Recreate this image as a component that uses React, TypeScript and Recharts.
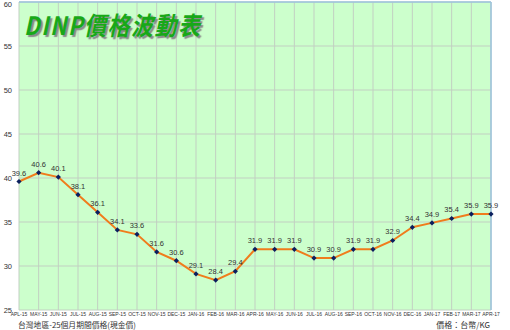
import {
  LineChart,
  Line,
  XAxis,
  YAxis,
  CartesianGrid,
  LabelList,
  ReferenceLine,
} from "recharts";

const months = [
  "APL-15", "MAY-15", "JUN-15", "JUL-15", "AUG-15", "SEP-15", "OCT-15",
  "NOV-15", "DEC-15", "JAN-16", "FEB-16", "MAR-16", "APR-16", "MAY-16",
  "JUN-16", "JUL-16", "AUG-16", "SEP-16", "OCT-16", "NOV-16", "DEC-16",
  "JAN-17", "FEB-17", "MAR-17", "APR-17",
];

const prices = [
  39.6, 40.6, 40.1, 38.1, 36.1, 34.1, 33.6, 31.6, 30.6, 29.1, 28.4, 29.4,
  31.9, 31.9, 31.9, 30.9, 30.9, 31.9, 31.9, 32.9, 34.4, 34.9, 35.4, 35.9, 35.9,
];

const yTicks = [25, 30, 35, 40, 45, 50, 55, 60];

const title = "DINP價格波動表";
const footLeft = "台灣地區-25個月期間價格(現金價)";
const footRight = "價格：台幣/KG";

const data = months.map((m, i) => ({ month: m, price: prices[i] }));

function Diamond(props: any) {
  const { cx, cy } = props;
  if (cx == null || cy == null) return null;
  const r = 2.6;
  return (
    <polygon
      points={`${cx},${cy - r} ${cx + r},${cy} ${cx},${cy + r} ${cx - r},${cy}`}
      fill="#0b1f5e"
    />
  );
}

function YTick(props: any) {
  const { x, y, payload } = props;
  // keep the top label inside the picture
  const ty = Math.max(y, 4);
  return (
    <text
      x={x}
      y={ty}
      dy="0.355em"
      textAnchor="end"
      fill="#333"
      fontSize={7.5}
      fontFamily="Liberation Sans"
    >
      {payload.value}
    </text>
  );
}

export default function App() {
  return (
    <div
      style={{
        position: "absolute",
        left: 0,
        top: 0,
        width: 510,
        height: 330,
        background: "#fff",
        overflow: "hidden",
      }}
    >
      <LineChart
        width={510}
        height={330}
        data={data}
        margin={{ top: 2, right: 19, bottom: 0, left: 0 }}
      >
        <CartesianGrid
          stroke="#c2cfc2"
          strokeWidth={1}
          fill="#ccffcc"
          fillOpacity={1}
        />
        <XAxis
          dataKey="month"
          interval={0}
          tickLine={false}
          axisLine={false}
          tickSize={0}
          tickMargin={2}
          height={20}
          tick={{ fill: "#333", fontSize: 5, fontFamily: "Liberation Sans" }}
        />
        <YAxis
          domain={[25, 60]}
          ticks={yTicks}
          width={19}
          tickLine={false}
          axisLine={false}
          tickSize={0}
          tickMargin={7}
          interval={0}
          tick={<YTick />}
        />
        <ReferenceLine y={60} stroke="#9cc3de" strokeWidth={1.5} />
        <ReferenceLine x="APR-17" stroke="#9cc3de" strokeWidth={1.5} />
        <Line
          type="linear"
          dataKey="price"
          stroke="#f07c1c"
          strokeWidth={2}
          dot={<Diamond />}
          activeDot={false}
          isAnimationActive={false}
        >
          <LabelList
            dataKey="price"
            position="top"
            offset={6}
            fill="#333"
            fontSize={7.5}
            fontFamily="Liberation Sans"
            formatter={(v: any) => Number(v).toFixed(1)}
          />
        </Line>
      </LineChart>
      <div
        style={{
          position: "absolute",
          left: 24,
          top: 7,
          fontFamily: "'Noto Sans CJK TC'",
          fontSize: 22,
          fontStyle: "italic",
          fontWeight: 700,
          color: "#18a818",
          textShadow: "2px 2px 1px #8a8a8a",
          lineHeight: "28px",
          whiteSpace: "nowrap",
          letterSpacing: 1.5,
          transform: "scaleY(1.15)",
          transformOrigin: "left top",
        }}
      >
        {title}
      </div>
      <div
        style={{
          position: "absolute",
          left: 18,
          top: 320,
          fontFamily: "'Noto Sans CJK TC'",
          fontSize: 7.8,
          color: "#333",
          lineHeight: "10px",
          whiteSpace: "nowrap",
        }}
      >
        {footLeft}
      </div>
      <div
        style={{
          position: "absolute",
          right: 20,
          top: 320,
          fontFamily: "'Noto Sans CJK TC'",
          fontSize: 8,
          color: "#333",
          lineHeight: "10px",
          whiteSpace: "nowrap",
        }}
      >
        {footRight}
      </div>
    </div>
  );
}
